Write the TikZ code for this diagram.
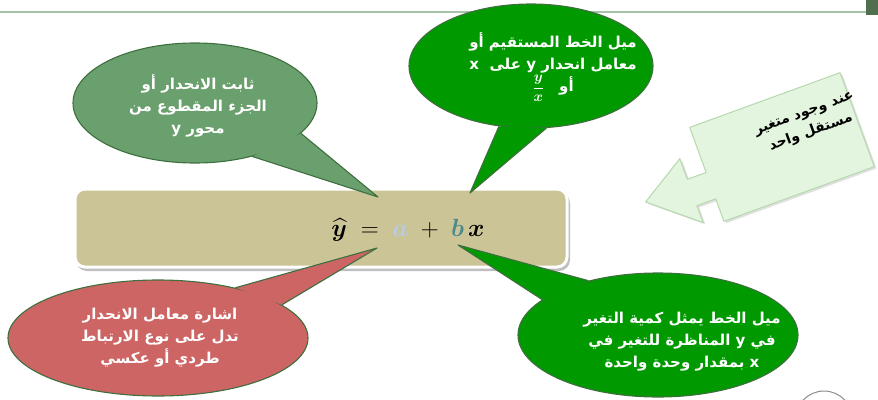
\documentclass[tikz,border=0pt]{standalone}
\usepackage{fontspec}
\usepackage{amsmath,bm}
\usetikzlibrary{shapes.geometric}
\TeXXeTstate=1
\newfontfamily\arabicfont[Script=Arabic]{DejaVu Sans}
\definecolor{topline}{HTML}{A8C4A8}
\definecolor{darksq}{HTML}{4F6F4F}
\definecolor{brightgreen}{HTML}{009A00}
\definecolor{bubbleborder}{HTML}{3F6F3F}
\definecolor{mutedgreen}{HTML}{6A9F6E}
\definecolor{redfill}{HTML}{CD6565}
\definecolor{tanfill}{HTML}{CBC496}
\definecolor{arrowfill}{HTML}{E3F4DF}
\definecolor{arrowborder}{HTML}{B4D9AC}
\definecolor{acol}{HTML}{B8CCE4}
\definecolor{bcol}{HTML}{4A8A8C}
\tikzset{
  bubble/.style={ellipse, draw=bubbleborder, line width=1.1pt, inner sep=0pt},
  tailedge/.style={draw=bubbleborder, line width=1.1pt, line join=round},
  bubbletext/.style={text=white, align=center, font={\arabicfont\bfseries\fontsize{15}{22}\selectfont}},
  arrowtext/.style={text=black, align=center, font={\arabicfont\bfseries\fontsize{14}{20}\selectfont}}
}
\begin{document}
\begin{tikzpicture}[x=1pt,y=-1pt]
\useasboundingbox (0,0) rectangle (878,399);
% top rule and corner square
\draw[topline, line width=2pt] (0,12) -- (866,12);
\fill[darksq] (866,0) rectangle (878,15);

% formula box
\fill[black!25, rounded corners=11pt] (76,192) rectangle (570,271);
\node[rounded corners=10pt, fill=tanfill, draw=white, line width=3pt, minimum width=492pt, minimum height=78pt, inner sep=0pt] (eq) at (321,228) {};
\node (formula) at (408,230) {\fontsize{33}{38}\selectfont $\bm{\widehat{y}} \;=\; {\color{acol}\bm{a}} \;+\; {\color{bcol}\bm{b}}\,\bm{x}$};

% left bubble
\coordinate (tipA) at (378,197);
\node[bubble, fill=mutedgreen, minimum width=244pt, minimum height=120pt] (bA) at (195,103) {};
\fill[mutedgreen] (bA.-16) -- (tipA) -- (bA.-43) -- cycle;
\draw[tailedge] (bA.-16) -- (tipA) -- (bA.-43);
\node[bubbletext] (tA) at (198,106) {\beginR ثابت الانحدار أو\endR\\ \beginR الجزء المقطوع من\endR\\ \beginR محور y\endR};

% top bubble
\coordinate (tipB) at (470,193);
\node[bubble, fill=brightgreen, minimum width=244pt, minimum height=124pt] (bB) at (531,66) {};
\fill[brightgreen] (bB.-118) -- (tipB) -- (bB.-76) -- cycle;
\draw[tailedge] (bB.-118) -- (tipB) -- (bB.-76);
\node[bubbletext] (tB) at (553,67) {\beginR ميل الخط المستقيم أو\endR\\ \beginR معامل انحدار y على\ \ x\endR\\ $\dfrac{\bm{y}}{\bm{x}}$\quad أو};

% red bubble
\coordinate (tipC) at (377,248);
\node[bubble, fill=redfill, minimum width=300pt, minimum height=116pt] (bC) at (158,338) {};
\fill[redfill] (bC.33) -- (tipC) -- (bC.15) -- cycle;
\draw[tailedge] (bC.33) -- (tipC) -- (bC.15);
\node[bubbletext] (tC) at (160,338) {\beginR اشارة معامل الانحدار\endR\\ \beginR تدل على نوع الارتباط\endR\\ \beginR طردي أو عكسي\endR};

% bottom-right bubble
\coordinate (tipD) at (458,245);
\node[bubble, fill=brightgreen, minimum width=280pt, minimum height=124pt] (bD) at (658,335) {};
\fill[brightgreen] (bD.142) -- (tipD) -- (bD.163) -- cycle;
\draw[tailedge] (bD.142) -- (tipD) -- (bD.163);
\node[bubbletext] (tD) at (682,342) {\beginR ميل الخط يمثل كمية التغير\endR\\ \beginR في y المناظرة للتغير في\endR\\ \beginR x بمقدار وحدة واحدة\endR};

% block arrow
\begin{scope}[shift={(782,147)}, rotate=20]
\path[fill=black!12, shift={(1.5,2.5)}] (-80,-50) -- (80,-50) -- (80,50) -- (-80,50) -- (-80,26) -- (-100,26) -- (-100,44) -- (-147,5) -- (-100,-24) -- (-100,-2) -- (-80,-2) -- cycle;
\path[fill=arrowfill, draw=arrowborder, line width=1pt, line join=round] (-80,-50) -- (80,-50) -- (80,50) -- (-80,50) -- (-80,26) -- (-100,26) -- (-100,44) -- (-147,5) -- (-100,-24) -- (-100,-2) -- (-80,-2) -- cycle;
\end{scope}
\node[arrowtext, rotate=20] (tE) at (808,124) {\beginR عند وجود متغير\endR\\ \beginR مستقل واحد\endR};

% partial logo at bottom right
\draw[black!45, line width=1pt] (824,421) ellipse (29pt and 30pt);
\end{tikzpicture}
\end{document}
